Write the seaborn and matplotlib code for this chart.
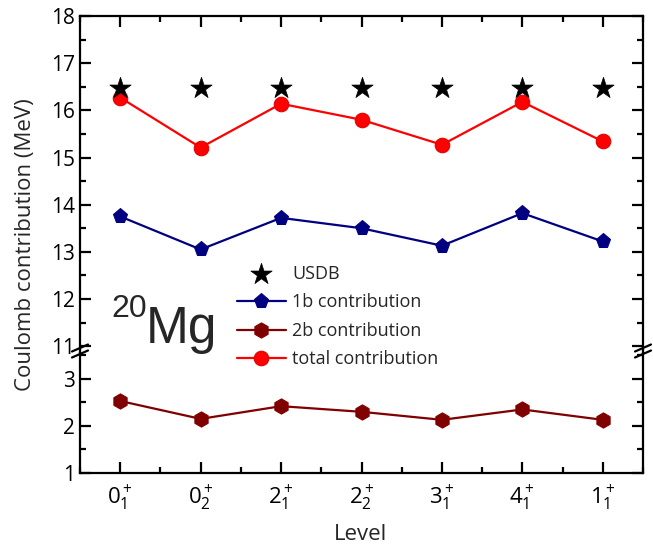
import numpy as np
import pandas as pd
import matplotlib
matplotlib.use("Agg")
import matplotlib.pyplot as plt
import seaborn as sns
from matplotlib.ticker import MultipleLocator, FixedLocator

# ---------------- data ----------------
levels = [r"$0^+_1$", r"$0^+_2$", r"$2^+_1$", r"$2^+_2$", r"$3^+_1$", r"$4^+_1$", r"$1^+_1$"]
usdb = [16.47, 16.47, 16.47, 16.47, 16.47, 16.47, 16.47]
one_b = [13.75, 13.05, 13.72, 13.50, 13.13, 13.82, 13.22]
two_b = [2.53, 2.15, 2.42, 2.30, 2.13, 2.35, 2.13]
total = [16.27, 15.21, 16.14, 15.80, 15.27, 16.18, 15.34]

df = pd.DataFrame({"idx": np.arange(len(levels)), "level": levels,
                   "usdb": usdb, "one_b": one_b, "two_b": two_b, "total": total})

sns.set_theme(style="ticks")
FONT = "Open Sans"
plt.rcParams["font.family"] = [FONT, "DejaVu Sans"]
plt.rcParams["mathtext.fontset"] = "custom"
plt.rcParams["mathtext.rm"] = FONT
plt.rcParams["mathtext.it"] = FONT
plt.rcParams["mathtext.bf"] = FONT
plt.rcParams["axes.linewidth"] = 1.6

W, H = 653, 548
fig = plt.figure(figsize=(W / 100, H / 100), dpi=100)

def fx(px):
    return px / W

def fy(py):
    return 1 - py / H

L, R = 80, 643
top_y0, top_y1 = 16, 349
bot_y0, bot_y1 = 353, 473
ax_top = fig.add_axes([fx(L), fy(top_y1), fx(R - L), (top_y1 - top_y0) / H])
ax_bot = fig.add_axes([fx(L), fy(bot_y1), fx(R - L), (bot_y1 - bot_y0) / H])

navy = "#000080"
dred = "#800000"
red = "#FF0000"

sns.scatterplot(data=df, x="idx", y="usdb", marker="*", s=260, color="black",
                edgecolor="black", linewidth=0.5, ax=ax_top, label="USDB", zorder=4)
sns.lineplot(data=df, x="idx", y="one_b", color=navy, marker="p", markersize=11,
             markeredgecolor=navy, linewidth=1.6, ax=ax_top, label="1b contribution", zorder=3)
sns.lineplot(data=df, x="idx", y="total", color=red, marker="o", markersize=10.5,
             markeredgecolor="#E00000", linewidth=1.6, ax=ax_top, label="total contribution", zorder=3)
sns.lineplot(data=df, x="idx", y="two_b", color=dred, marker="h", markersize=11,
             markeredgecolor=dred, linewidth=1.6, ax=ax_bot, label="2b contribution", zorder=3)

h_top, l_top = ax_top.get_legend_handles_labels()
h_bot, l_bot = ax_bot.get_legend_handles_labels()
ax_top.get_legend().remove()
ax_bot.get_legend().remove()
hd = dict(zip(l_top + l_bot, h_top + h_bot))
order = ["USDB", "1b contribution", "2b contribution", "total contribution"]

for ax in (ax_top, ax_bot):
    ax.set_xlim(-0.5, 6.5)
    ax.set_xlabel("")
    ax.set_ylabel("")
    ax.xaxis.set_major_locator(FixedLocator(df["idx"].tolist()))
    ax.xaxis.set_minor_locator(MultipleLocator(0.5))
    ax.yaxis.set_major_locator(MultipleLocator(1))
    ax.yaxis.set_minor_locator(MultipleLocator(0.5))
    ax.tick_params(axis="both", which="both", direction="in", width=1.6,
                   labelsize=15, colors="black")
    ax.tick_params(axis="both", which="major", length=8)
    ax.tick_params(axis="both", which="minor", length=4)
    ax.tick_params(axis="y", which="both", left=True, right=True)
    for s in ax.spines.values():
        s.set_color("black")
        s.set_linewidth(1.6)

ax_top.set_ylim(10.94, 18)
ax_bot.set_ylim(1, 3.55)
ax_top.spines["bottom"].set_visible(False)
ax_bot.spines["top"].set_visible(False)
ax_top.tick_params(axis="x", which="both", bottom=False, top=True, labelbottom=False)
ax_bot.tick_params(axis="x", which="both", bottom=True, top=False, pad=8)
ax_bot.set_xticklabels(levels, fontsize=16)
ax_bot.set_yticks([1, 2, 3])

# axis break marks
for xpx in (L, R):
    for yc in (348.0, 354.0):
        fig.add_artist(plt.Line2D([fx(xpx - 8), fx(xpx + 8)], [fy(yc + 3.5), fy(yc - 3.5)],
                                  transform=fig.transFigure, color="black", lw=1.6))
fig.add_artist(plt.Line2D([fx(L), fx(L)], [fy(349), fy(353)], transform=fig.transFigure,
                          color="black", lw=1.6))
fig.add_artist(plt.Line2D([fx(R), fx(R)], [fy(349), fy(353)], transform=fig.transFigure,
                          color="black", lw=1.6))

fig.text(fx(26), fy(245), "Coulomb contribution (MeV)", rotation=90, ha="center",
         va="center", fontsize=16)
fig.text(fx(361), fy(535), "Level", ha="center", va="center", fontsize=16)
fig.text(fx(111), fy(317), "20", ha="left", va="baseline", fontsize=23,
         family=["Liberation Sans", "DejaVu Sans"])
fig.text(fx(146), fy(343), "Mg", ha="left", va="baseline", fontsize=37,
         family=["Liberation Sans", "DejaVu Sans"])

fig.legend([hd[k] for k in order], order, loc="upper left",
           bbox_to_anchor=(fx(237), fy(265)), frameon=False, fontsize=13,
           handlelength=2.7, handletextpad=0.35, labelspacing=0.58, borderpad=0,
           borderaxespad=0)

fig.savefig("out.png", dpi=100)
